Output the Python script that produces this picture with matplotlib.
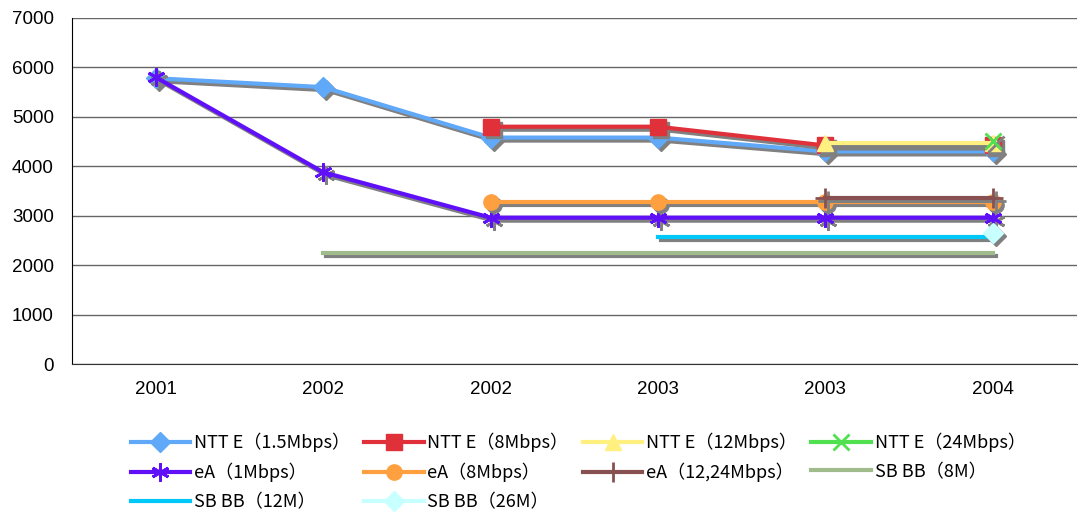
import numpy as np
import matplotlib
matplotlib.use('Agg')
import matplotlib.pyplot as plt
from matplotlib import transforms
from matplotlib.lines import Line2D

nan = np.nan
years = ['2001', '2002', '2002', '2003', '2003', '2004']

ntt_15 = [5780, 5600, 4580, 4580, 4300, 4300]
ntt_8 = [nan, nan, 4800, 4800, 4420, 4420]
ntt_12 = [nan, nan, nan, nan, 4470, 4470]
ntt_24 = [nan, nan, nan, nan, nan, 4510]
ea_1 = [5800, 3880, 2960, 2960, 2960, 2960]
ea_8 = [nan, nan, 3270, 3270, 3270, 3270]
ea_12 = [nan, nan, nan, nan, 3350, 3350]
sb_8 = [nan, 2250, 2250, 2250, 2250, 2250]
sb_12 = [nan, nan, nan, 2560, 2560, 2560]
sb_26 = [nan, nan, nan, nan, nan, 2640]

labels = ['NTT E（1.5Mbps）', 'NTT E（8Mbps）', 'NTT E（12Mbps）', 'NTT E（24Mbps）',
          'eA（1Mbps）', 'eA（8Mbps）', 'eA（12,24Mbps）', 'SB BB（8M）',
          'SB BB（12M）', 'SB BB（26M）']
series = [ntt_15, ntt_8, ntt_12, ntt_24, ea_1, ea_8, ea_12, sb_8, sb_12, sb_26]
colors = ['#60A8F8', '#E0303A', '#FFF080', '#50E050', '#6010F8', '#FFA040',
          '#885050', '#A0BC8C', '#00C8F8', '#C8FFFF']
markers = ['D', 's', '^', 'x', (6, 2, 0), 'o', '+', None, None, 'D']
msizes = [10, 11, 11, 11, 13, 11, 14, 0, 0, 10]

fig = plt.figure(figsize=(10.79, 5.12), dpi=100)
ax = fig.add_axes([0.0667, 0.289, 0.931, 0.676])

x = np.arange(len(years))
shadow = transforms.offset_copy(ax.transData, fig=fig, x=3, y=-3, units='dots')

handles = []
for i, (vals, c, m, ms, lab) in enumerate(zip(series, colors, markers, msizes, labels)):
    mew = 2 if m in ('x', '+') or isinstance(m, tuple) else 1
    ax.plot(x, vals, color='#808080', lw=3, marker=m, ms=ms, mew=mew,
            mfc='#808080', mec='#808080', transform=shadow, zorder=2 + 2 * i)
    ax.plot(x, vals, color=c, lw=3, marker=m, ms=ms, mew=mew,
            mfc=c, mec=c, zorder=3 + 2 * i)
    handles.append(Line2D([], [], color=c, lw=3, marker=m, ms=ms, mew=mew,
                          mfc=c, mec=c, label=lab))

# legend fills by column, reorder so it reads row by row
order = [0, 4, 8, 1, 5, 9, 2, 6, 3, 7]
handles = [handles[k] for k in order]

ax.set_xlim(-0.5, 5.5)
ax.set_ylim(0, 7000)
ax.set_yticks(range(0, 7001, 1000))
ax.set_xticks(x)
ax.set_xticklabels(years)
ax.tick_params(axis='y', length=0, labelsize=13.5, pad=13)
ax.tick_params(axis='x', length=0, labelsize=13.5, pad=12)
for lab in ax.get_xticklabels() + ax.get_yticklabels():
    lab.set_fontfamily('Liberation Sans')
ax.grid(axis='y', color='#666666', lw=1)
ax.set_axisbelow(True)
for s in ['top', 'right']:
    ax.spines[s].set_visible(False)
ax.spines['left'].set_color('black')
ax.spines['bottom'].set_color('#333333')

fig.legend(handles=handles, ncol=4, loc='upper left', bbox_to_anchor=(0.106, 0.187),
           frameon=False, handlelength=3.3, handletextpad=0.2, columnspacing=0.8,
           labelspacing=0.6, prop={'family': ['Noto Sans CJK JP', 'DejaVu Sans'], 'size': 13})

fig.savefig('out.png', dpi=100)
